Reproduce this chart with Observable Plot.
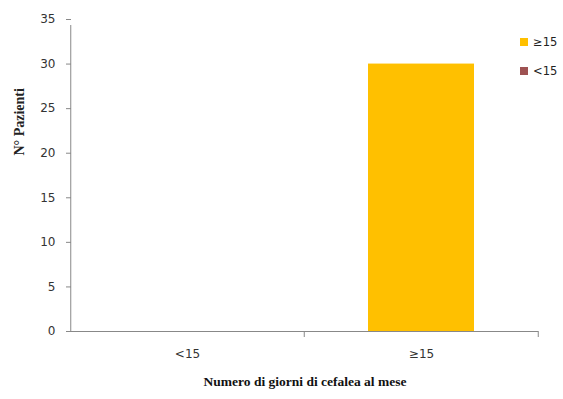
<!DOCTYPE html>
<html>
<head>
<meta charset="utf-8">
<script src="https://cdn.jsdelivr.net/npm/d3@7"></script>
<script src="https://cdn.jsdelivr.net/npm/@observablehq/plot@0.6"></script>
<style>
  html, body { margin: 0; padding: 0; background: #fff; }
  #wrap { position: relative; width: 563px; height: 399px; }
  .legend { position: absolute; left: 520px; font-family: "DejaVu Sans", Verdana, sans-serif; font-size: 11.5px; color: #222; }
  .legend div { display: flex; align-items: center; height: 14px; margin-bottom: 15px; }
  .legend span.sw { display: inline-block; width: 8px; height: 8px; margin-right: 5px; }
</style>
</head>
<body>
<div id="wrap"></div>
<script>
const categories = ["<15", "≥15"];
const values = [0, 30];
const seriesNames = ["≥15", "<15"];
const seriesColors = ["#FFC000", "#9E5252"];
const yTicks = [0, 5, 10, 15, 20, 25, 30, 35];
const xTitle = "Numero di giorni di cefalea al mese";
const yTitle = "N° Pazienti";

const data = categories.map((c, i) => ({cat: c, value: values[i]}));

const W = 563, H = 399;
const mL = 71, mR = 25, mT = 19, mB = 68;
const half = (W - mL - mR) / categories.length / 2;
const sans = "'DejaVu Sans', Verdana, sans-serif";
const serif = "'Liberation Serif', 'Times New Roman', serif";

const chart = Plot.plot({
  width: W, height: H,
  marginLeft: mL, marginRight: mR, marginTop: mT, marginBottom: mB,
  style: {fontFamily: sans, fontSize: "12px", color: "#333", background: "#fff"},
  x: {domain: categories, paddingInner: 0.545, paddingOuter: 0.27, label: null},
  y: {domain: [0, 35], ticks: yTicks, label: null},
  color: {domain: seriesNames, range: seriesColors},
  marks: [
    Plot.barY(data, {x: "cat", y: "value", fill: d => d.cat}),
    Plot.ruleY([0], {stroke: "#888", strokeWidth: 1}),
    Plot.ruleX([categories[0]], {x: d => d, y1: 0, y2: 35, dx: -half, insetBottom: -6, stroke: "#888"}),
    Plot.ruleX(categories, {x: d => d, y1: 0, y2: 0, dx: half, insetBottom: -6, stroke: "#888"}),
    Plot.axisY({ticks: yTicks, tickSize: 5, tickPadding: 11, stroke: "#888", fill: "#333", fontFamily: sans, fontSize: 12, label: null}),
    Plot.axisX({tickSize: 0, tickPadding: 18, fill: "#333", fontFamily: sans, fontSize: 12, label: null}),
    Plot.text([xTitle], {frameAnchor: "bottom", dy: 54, text: d => d, fontFamily: serif, fontWeight: "bold", fontSize: 13.5, fill: "#111"}),
    Plot.text([yTitle], {frameAnchor: "left", dx: -52, dy: -20, rotate: -90, text: d => d, fontFamily: serif, fontWeight: "bold", fontSize: 14, fill: "#222"})
  ]
});

const wrap = document.getElementById("wrap");
wrap.appendChild(chart);

const legend = document.createElement("div");
legend.className = "legend";
legend.style.top = "35px";
seriesNames.forEach((n, i) => {
  const row = document.createElement("div");
  const sw = document.createElement("span");
  sw.className = "sw";
  sw.style.background = seriesColors[i];
  row.appendChild(sw);
  row.appendChild(document.createTextNode(n));
  legend.appendChild(row);
});
wrap.appendChild(legend);
</script>
</body>
</html>
